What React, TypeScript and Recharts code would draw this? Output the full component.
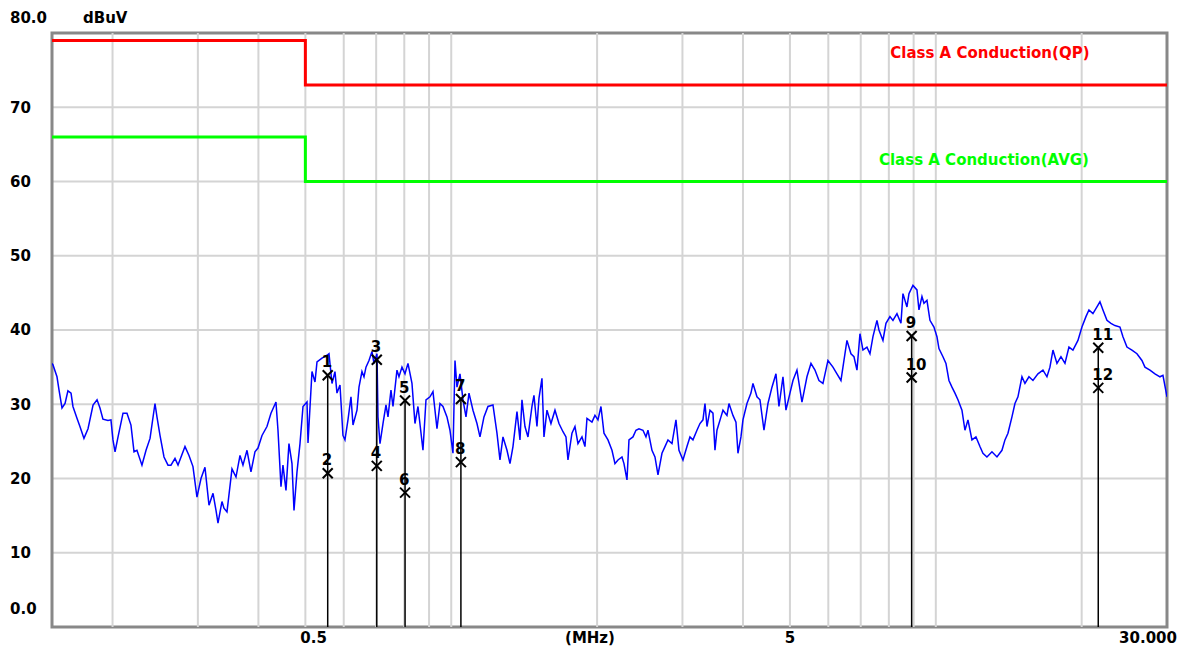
import React from 'react';
import {
  ComposedChart,
  Line,
  Scatter,
  XAxis,
  YAxis,
  CartesianGrid,
  ReferenceLine,
  ReferenceArea,
  ReferenceDot
} from 'recharts';

// measured trace (MHz / dBuV)
const traceFreq = [
  0.15, 0.1507, 0.1536, 0.1551, 0.1573, 0.1596, 0.1618, 0.1642, 0.1657, 0.1689, 0.1713, 0.1746, 0.178, 0.1823, 0.1858, 0.1884,
  0.1911, 0.1957, 0.1985, 0.2004, 0.2024, 0.2053, 0.2102, 0.2142, 0.2183, 0.2215, 0.2246, 0.23, 0.2345, 0.239,
  0.2447, 0.247, 0.2506, 0.2554, 0.2603, 0.264, 0.2691, 0.273, 0.2822, 0.2876, 0.2931, 0.2987, 0.3045,
  0.3103, 0.3163, 0.3224, 0.327, 0.3301, 0.3364, 0.3396, 0.3445, 0.3528, 0.3596, 0.3665, 0.3717, 0.3789, 0.3861,
  0.3935, 0.3992, 0.4069, 0.4166, 0.4246, 0.4348, 0.439, 0.4453, 0.4495, 0.456, 0.4625, 0.4692, 0.4737, 0.4805, 0.4874,
  0.4944, 0.5039, 0.5063, 0.516, 0.5234, 0.5284, 0.5411, 0.5541, 0.5594, 0.5674, 0.5755, 0.581, 0.5894, 0.5978, 0.6035, 0.6122, 0.621,
  0.627, 0.639, 0.6451, 0.6543, 0.6606, 0.6669, 0.6765, 0.6862, 0.6927, 0.7027, 0.706, 0.7128, 0.723, 0.7334, 0.7404, 0.751, 0.7582, 0.7727, 0.7801,
  0.7913, 0.8027, 0.8142, 0.8298, 0.8417, 0.8538, 0.8743, 0.8869, 0.9039, 0.9169, 0.9345, 0.9479, 0.9615, 0.9799, 0.994,
  1.0083, 1.018, 1.0277, 1.0424, 1.0574, 1.0726, 1.088, 1.1088, 1.1301, 1.1463, 1.1683, 1.1907, 1.2193, 1.2427, 1.2606,
  1.2787, 1.3033, 1.322, 1.3409, 1.3667, 1.3863, 1.3995, 1.4196, 1.44, 1.4676, 1.4816, 1.5029, 1.5172, 1.539, 1.5537, 1.576, 1.6062,
  1.6371, 1.6686, 1.7006, 1.725, 1.7414, 1.7748, 1.8003, 1.8262, 1.8612, 1.8879, 1.906, 1.9517, 1.9798, 2.0082, 2.037,
  2.0664, 2.106, 2.1464, 2.1772, 2.2085, 2.2508, 2.2723, 2.305, 2.327, 2.3716, 2.4056, 2.4401, 2.487, 2.5226, 2.5468,
  2.5957, 2.633, 2.6708, 2.722, 2.7611, 2.8007, 2.8544, 2.9092, 2.951, 3.0076, 3.0653, 3.1093, 3.1539, 3.2144, 3.2606,
  3.3075, 3.3391, 3.371, 3.4194, 3.4684, 3.5016, 3.535, 3.6028, 3.6372, 3.707, 3.7424, 3.8141, 3.8689, 3.9058, 3.9619, 3.9997, 4.0764, 4.1546,
  4.1945, 4.275, 4.3364, 4.4196, 4.5044, 4.5908, 4.6789, 4.746, 4.8371, 4.9065, 5.0006, 5.0724, 5.1697,
  5.2942, 5.4214, 5.5255, 5.6315, 5.7396, 5.8497, 5.9902, 6.1342, 6.252, 6.3718, 6.4327, 6.556, 6.6818,
  6.7782, 6.8754, 6.9742, 7.0742, 7.2099, 7.3134, 7.4184, 7.5608, 7.6329, 7.7793, 7.8909, 8.0424, 8.1578, 8.3143, 8.4738,
  8.5551, 8.7192, 8.8026, 8.9713, 9.1435, 9.2309, 9.3632, 9.4526, 9.5883, 9.726, 9.9125, 10.055, 10.151, 10.346, 10.494, 10.645,
  10.798, 10.953, 11.11, 11.323, 11.486, 11.651, 11.874, 12.102, 12.334, 12.511, 12.751, 13.058, 13.372,
  13.694, 13.891, 14.09, 14.36, 14.566, 14.775, 15.059, 15.275, 15.568, 15.867, 16.248, 16.639, 16.958, 17.201,
  17.449, 17.784, 18.125, 18.473, 18.827, 19.188, 19.649, 20.026, 20.411, 20.703, 21.101, 21.506, 21.814,
  22.128, 22.553, 22.985, 23.427, 23.99, 24.334, 24.801, 25.397, 26.008, 26.632, 27.015, 27.665,
  28.331, 29.012, 29.428, 30.0
];
const traceLevel = [
  35.5, 35.3, 33.7, 31.9, 29.5, 30.1, 31.8, 31.5, 29.7, 28.1, 27.0, 25.4, 26.7, 29.9, 30.6, 29.5,
  28.0, 27.8, 27.9, 25.2, 23.6, 25.6, 28.8, 28.8, 27.2, 23.6, 23.8, 21.8, 23.8, 25.4,
  30.1, 28.3, 25.8, 22.9, 21.8, 21.8, 22.7, 21.8, 24.3, 23.1, 21.6, 17.5, 20.0,
  21.5, 16.4, 18.0, 15.7, 14.0, 16.9, 16.0, 15.5, 21.3, 20.2, 23.1, 21.8, 23.8, 20.9,
  23.6, 24.1, 25.8, 27.0, 28.8, 30.3, 26.5, 18.9, 21.8, 18.4, 24.7, 22.0, 15.7, 20.9, 24.7,
  29.7, 30.3, 24.8, 34.4, 33.0, 35.7, 36.2, 36.6, 36.8, 32.8, 34.4, 31.5, 32.6, 25.8, 25.2, 27.9, 31.0,
  27.2, 29.2, 32.3, 34.4, 33.7, 35.0, 35.9, 37.1, 35.5, 36.8, 28.3, 24.7, 27.4, 29.9, 28.3, 31.9, 29.7, 34.6, 33.7,
  35.0, 34.1, 35.5, 32.8, 27.4, 29.7, 23.8, 30.6, 31.0, 31.7, 26.7, 30.1, 29.7, 28.3, 26.5,
  23.4, 35.9, 32.3, 34.1, 30.6, 28.3, 31.5, 29.2, 27.4, 25.6, 28.3, 29.7, 29.9, 26.1, 22.5,
  25.6, 23.8, 22.0, 24.3, 29.0, 25.2, 30.6, 27.0, 25.6, 29.7, 31.2, 27.0, 30.8, 33.5, 25.6, 29.2, 27.4,
  29.2, 27.4, 26.3, 25.6, 22.5, 26.1, 27.0, 24.7, 25.6, 24.3, 28.1, 27.6, 28.5, 27.9, 29.7,
  26.1, 25.2, 23.8, 22.0, 22.5, 22.9, 22.0, 19.8, 25.2, 25.6, 26.5, 26.7, 26.5, 25.6, 26.5,
  23.8, 22.9, 20.5, 23.4, 24.3, 25.2, 24.7, 27.9, 23.8, 22.5, 24.3, 25.6, 25.2, 26.5, 27.4,
  27.9, 30.1, 27.0, 29.2, 28.8, 23.8, 26.5, 28.3, 29.2, 28.5, 30.1, 28.5, 27.6, 23.4, 25.6, 27.9, 30.1, 31.5,
  32.8, 31.0, 30.6, 26.5, 30.1, 32.3, 34.1, 29.7, 33.7, 29.2, 31.5, 33.2, 34.6,
  30.3, 33.7, 35.5, 34.6, 33.2, 32.8, 35.9, 35.0, 34.1, 33.2, 35.0, 38.6, 36.8,
  36.4, 34.6, 39.5, 37.3, 37.7, 36.8, 39.1, 41.3, 40.0, 38.6, 40.9, 41.8, 41.3, 42.2, 40.9,
  44.9, 43.1, 44.9, 46.0, 45.4, 42.7, 44.5, 43.6, 44.0, 41.3, 40.4, 39.1, 37.5, 36.4, 35.5, 33.2,
  32.3, 31.5, 30.6, 29.2, 26.5, 27.9, 25.2, 25.6, 24.3, 23.4, 22.9, 23.6, 22.9,
  23.8, 25.2, 26.1, 28.3, 30.1, 31.0, 33.7, 32.8, 33.7, 33.2, 34.1, 34.6, 33.7, 35.0,
  37.3, 35.5, 36.4, 35.5, 37.7, 37.3, 38.6, 40.4, 41.8, 42.7, 42.2, 43.1, 43.8,
  42.7, 41.3, 40.9, 40.6, 40.4, 39.1, 37.7, 37.3, 36.8, 35.9, 35.0, 34.6,
  34.1, 33.7, 33.9, 31.0
];

// limit lines
const limitFreq = [0.15, 0.5, 30];
const qpLevel = [79, 73, 73];
const avgLevel = [66, 60, 60];

// markers
const markerNo = [1, 2, 3, 4, 5, 6, 7, 8, 9, 10, 11, 12];
const markerFreq = [0.556, 0.556, 0.702, 0.702, 0.803, 0.803, 1.047, 1.047, 8.916, 8.916, 21.64, 21.64];
const markerLevel = [33.9, 20.7, 36.0, 21.7, 30.5, 18.1, 30.7, 22.2, 39.2, 33.6, 37.6, 32.2];

const gridFreqs = [0.2, 0.3, 0.4, 0.5, 0.6, 0.7, 0.8, 0.9, 1, 2, 3, 4, 5, 6, 7, 8, 9, 10, 20];
const yTicks = [0, 10, 20, 30, 40, 50, 60, 70, 80];
const xTicks = [0.5, 5, 30];
const xTickLabels: Record<number, string> = { 0.5: '0.5', 5: '5', 30: '30.000' };

const FONT = '"DejaVu Sans", Verdana, sans-serif';
const FS = 15;

const traceData = traceFreq.map((f, i) => ({ f, v: traceLevel[i] }));
const qpData = limitFreq.map((f, i) => ({ f, v: qpLevel[i] }));
const avgData = limitFreq.map((f, i) => ({ f, v: avgLevel[i] }));
const markerData = markerNo.map((n, i) => ({ n, f: markerFreq[i], v: markerLevel[i] }));

const YTick = (props: any) => {
  const { y, payload } = props;
  const v = payload.value;
  const label = v === 0 ? '0.0' : v === 80 ? '80.0' : String(v);
  const dy = v === 0 ? -18 : v === 80 ? -15 : 0;
  return (
    <text x={10} y={y + dy} dy="0.36em" textAnchor="start" fontFamily={FONT} fontWeight="bold" fontSize={FS} fill="#000">
      {label}
    </text>
  );
};

const XTick = (props: any) => {
  const { x, payload } = props;
  const v = payload.value;
  let anchor = 'middle';
  let dx = 0;
  if (v === 0.5) { anchor = 'start'; dx = -5; }
  if (v === 30) { anchor = 'end'; dx = 10; }
  return (
    <text x={x + dx} y={643} textAnchor={anchor} fontFamily={FONT} fontWeight="bold" fontSize={FS} fill="#000">
      {xTickLabels[v]}
    </text>
  );
};

const MarkerShape = (props: any) => {
  const { cx, cy, payload } = props;
  return (
    <g>
      <line x1={cx - 5} y1={cy - 5} x2={cx + 5} y2={cy + 5} stroke="#000" strokeWidth={2} />
      <line x1={cx - 5} y1={cy + 5} x2={cx + 5} y2={cy - 5} stroke="#000" strokeWidth={2} />
      <text x={cx - 6} y={cy - 8} fontFamily={FONT} fontWeight="bold" fontSize={FS} fill="#000">
        {payload.n}
      </text>
    </g>
  );
};

const App: React.FC = () => {
  return (
    <div style={{ position: 'absolute', left: 0, top: 0, width: 1181, height: 653, background: '#fff' }}>
      <ComposedChart width={1181} height={653} margin={{ top: 33, right: 14, bottom: 0, left: 0 }}>
        <CartesianGrid vertical={false} stroke="#d4d4d4" strokeWidth={2} />
        <XAxis
          dataKey="f"
          type="number"
          scale="log"
          domain={[0.15, 30]}
          allowDataOverflow
          ticks={xTicks}
          interval={0}
          tick={<XTick />}
          tickLine={false}
          axisLine={false}
          height={26}
          label={() => (
            <text x={590} y={643} textAnchor="middle" fontFamily={FONT} fontWeight="bold" fontSize={FS} fill="#000">
              (MHz)
            </text>
          )}
        />
        <YAxis
          type="number"
          domain={[0, 80]}
          ticks={yTicks}
          interval={0}
          width={52}
          tick={<YTick />}
          tickLine={false}
          axisLine={false}
          label={() => (
            <text x={83} y={18} dy="0.36em" fontFamily={FONT} fontWeight="bold" fontSize={FS} fill="#000">
              dBuV
            </text>
          )}
        />
        {gridFreqs.map((f) => (
          <ReferenceLine key={f} x={f} stroke="#d4d4d4" strokeWidth={2} />
        ))}
        <ReferenceArea x1={0.15} x2={30} y1={0} y2={80} fill="none" stroke="#888" strokeWidth={3} />
        <Line data={qpData} dataKey="v" type="stepAfter" stroke="#ff0000" strokeWidth={3} dot={false} isAnimationActive={false} />
        <Line data={avgData} dataKey="v" type="stepAfter" stroke="#00ff00" strokeWidth={3} dot={false} isAnimationActive={false} />
        <ReferenceDot
          x={12.93}
          y={77.3}
          r={0}
          fill="none"
          stroke="none"
          label={{ value: 'Class A Conduction(QP)', fill: '#ff0000', fontWeight: 'bold', fontSize: FS, fontFamily: FONT, position: 'center' }}
        />
        <ReferenceDot
          x={12.57}
          y={62.9}
          r={0}
          fill="none"
          stroke="none"
          label={{ value: 'Class A Conduction(AVG)', fill: '#00ff00', fontWeight: 'bold', fontSize: FS, fontFamily: FONT, position: 'center' }}
        />
        <Line data={traceData} dataKey="v" type="linear" stroke="#0000ff" strokeWidth={1.5} dot={false} isAnimationActive={false} />
        {markerData
          .filter((m) => m.n % 2 === 1)
          .map((m) => (
            <ReferenceLine key={m.n} segment={[{ x: m.f, y: 0 }, { x: m.f, y: m.v }]} stroke="#000" strokeWidth={1.5} />
          ))}
        <Scatter data={markerData} dataKey="v" shape={<MarkerShape />} isAnimationActive={false} />
      </ComposedChart>
    </div>
  );
};

export default App;
